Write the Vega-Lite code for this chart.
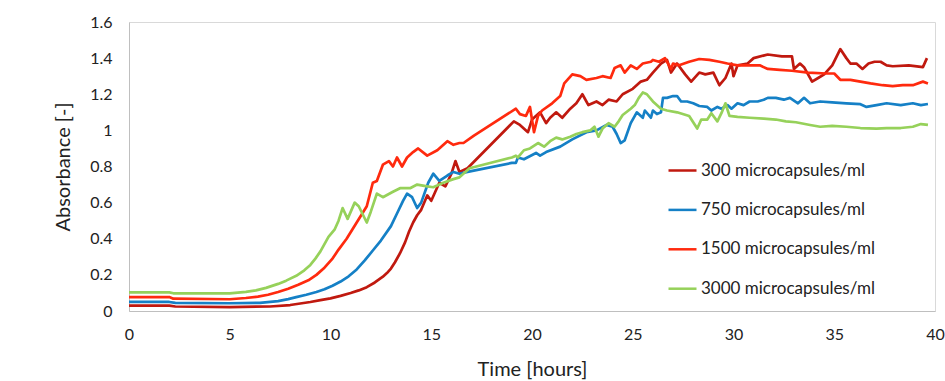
{
  "$schema": "https://vega.github.io/schema/vega-lite/v6.json",
  "width": 806,
  "height": 289,
  "autosize": {"type": "none"},
  "padding": {"left": 129, "top": 22, "right": 10, "bottom": 70},
  "background": "white",
  "config": {
    "font": "Lato",
    "view": {"stroke": "#d9d9d9", "strokeWidth": 1}
  },
  "datasets": {
    "d300": [
      {"time": 0, "abs": 0.03}, {"time": 2, "abs": 0.03}, {"time": 2.3, "abs": 0.025}, {"time": 5, "abs": 0.022}, {"time": 7, "abs": 0.025},
      {"time": 8, "abs": 0.033}, {"time": 9, "abs": 0.05}, {"time": 9.5, "abs": 0.06}, {"time": 10, "abs": 0.07}, {"time": 10.5, "abs": 0.084}, {"time": 11, "abs": 0.1},
      {"time": 11.4, "abs": 0.114}, {"time": 11.8, "abs": 0.132}, {"time": 12.2, "abs": 0.158},
      {"time": 12.6, "abs": 0.19}, {"time": 12.8, "abs": 0.21}, {"time": 13, "abs": 0.235}, {"time": 13.2, "abs": 0.27}, {"time": 13.45, "abs": 0.32}, {"time": 13.7, "abs": 0.38}, {"time": 13.9, "abs": 0.44}, {"time": 14.1, "abs": 0.49}, {"time": 14.3, "abs": 0.53}, {"time": 14.5, "abs": 0.56},
      {"time": 14.8, "abs": 0.64}, {"time": 15.0, "abs": 0.61}, {"time": 15.2, "abs": 0.66}, {"time": 15.4, "abs": 0.71}, {"time": 15.7, "abs": 0.69}, {"time": 16.0, "abs": 0.76}, {"time": 16.2, "abs": 0.83},
      {"time": 16.4, "abs": 0.77}, {"time": 16.8, "abs": 0.79}, {"time": 19.1, "abs": 1.05}, {"time": 19.4, "abs": 1.03}, {"time": 19.8, "abs": 0.99},
      {"time": 20.0, "abs": 1.06}, {"time": 20.4, "abs": 1.1}, {"time": 20.7, "abs": 1.04}, {"time": 20.9, "abs": 1.07}, {"time": 21.2, "abs": 1.1},
      {"time": 21.5, "abs": 1.07}, {"time": 21.9, "abs": 1.12}, {"time": 22.2, "abs": 1.15}, {"time": 22.5, "abs": 1.2}, {"time": 22.8, "abs": 1.14},
      {"time": 23.2, "abs": 1.16}, {"time": 23.5, "abs": 1.14}, {"time": 23.8, "abs": 1.17}, {"time": 24.2, "abs": 1.16}, {"time": 24.5, "abs": 1.2},
      {"time": 25.0, "abs": 1.23}, {"time": 25.4, "abs": 1.27}, {"time": 25.7, "abs": 1.28}, {"time": 26.0, "abs": 1.32}, {"time": 26.4, "abs": 1.37},
      {"time": 26.7, "abs": 1.39}, {"time": 26.9, "abs": 1.32}, {"time": 27.2, "abs": 1.37}, {"time": 27.6, "abs": 1.31}, {"time": 27.9, "abs": 1.27},
      {"time": 28.3, "abs": 1.32}, {"time": 28.6, "abs": 1.31}, {"time": 29.0, "abs": 1.32}, {"time": 29.3, "abs": 1.25}, {"time": 29.6, "abs": 1.29},
      {"time": 29.9, "abs": 1.37}, {"time": 30.0, "abs": 1.3}, {"time": 30.2, "abs": 1.36}, {"time": 30.7, "abs": 1.37}, {"time": 31.0, "abs": 1.4},
      {"time": 31.7, "abs": 1.42}, {"time": 32.4, "abs": 1.41}, {"time": 32.9, "abs": 1.41}, {"time": 33.0, "abs": 1.34}, {"time": 33.3, "abs": 1.37},
      {"time": 33.5, "abs": 1.35}, {"time": 33.7, "abs": 1.31}, {"time": 33.9, "abs": 1.27}, {"time": 34.2, "abs": 1.29}, {"time": 34.5, "abs": 1.31},
      {"time": 34.9, "abs": 1.36}, {"time": 35.3, "abs": 1.45}, {"time": 35.6, "abs": 1.4}, {"time": 35.8, "abs": 1.37}, {"time": 36.1, "abs": 1.37},
      {"time": 36.4, "abs": 1.34}, {"time": 36.7, "abs": 1.37}, {"time": 37.0, "abs": 1.38}, {"time": 37.3, "abs": 1.38}, {"time": 37.6, "abs": 1.36},
      {"time": 37.9, "abs": 1.355}, {"time": 38.7, "abs": 1.36}, {"time": 39.4, "abs": 1.35}, {"time": 39.6, "abs": 1.4}
    ],
    "d750": [
      {"time": 0, "abs": 0.05}, {"time": 2, "abs": 0.05}, {"time": 2.3, "abs": 0.045}, {"time": 5, "abs": 0.043}, {"time": 6.5, "abs": 0.045},
      {"time": 7.4, "abs": 0.055}, {"time": 7.9, "abs": 0.066}, {"time": 8.3, "abs": 0.077}, {"time": 8.8, "abs": 0.09}, {"time": 9.3, "abs": 0.105}, {"time": 9.7, "abs": 0.12}, {"time": 10.1, "abs": 0.14}, {"time": 10.5, "abs": 0.163}, {"time": 10.9, "abs": 0.192},
      {"time": 11.3, "abs": 0.23}, {"time": 11.7, "abs": 0.28}, {"time": 12.1, "abs": 0.335}, {"time": 12.5, "abs": 0.39}, {"time": 13, "abs": 0.47}, {"time": 13.3, "abs": 0.54}, {"time": 13.6, "abs": 0.61}, {"time": 13.8, "abs": 0.65},
      {"time": 14.05, "abs": 0.63}, {"time": 14.3, "abs": 0.57}, {"time": 14.5, "abs": 0.6}, {"time": 14.85, "abs": 0.71}, {"time": 15.1, "abs": 0.76},
      {"time": 15.4, "abs": 0.72}, {"time": 15.8, "abs": 0.75}, {"time": 16.1, "abs": 0.77}, {"time": 16.4, "abs": 0.76}, {"time": 16.8, "abs": 0.77},
      {"time": 19.0, "abs": 0.82}, {"time": 19.2, "abs": 0.82}, {"time": 19.3, "abs": 0.85}, {"time": 19.6, "abs": 0.84}, {"time": 20.2, "abs": 0.875},
      {"time": 20.4, "abs": 0.86}, {"time": 20.7, "abs": 0.88}, {"time": 21.4, "abs": 0.91}, {"time": 22.0, "abs": 0.95}, {"time": 22.7, "abs": 0.99},
      {"time": 23.2, "abs": 1.0}, {"time": 23.7, "abs": 1.03}, {"time": 24.0, "abs": 1.02}, {"time": 24.2, "abs": 0.98}, {"time": 24.4, "abs": 0.93},
      {"time": 24.6, "abs": 0.945}, {"time": 24.9, "abs": 1.04}, {"time": 25.2, "abs": 1.1}, {"time": 25.5, "abs": 1.07}, {"time": 25.6, "abs": 1.11},
      {"time": 25.9, "abs": 1.07}, {"time": 26.0, "abs": 1.11}, {"time": 26.2, "abs": 1.09}, {"time": 26.4, "abs": 1.1}, {"time": 26.5, "abs": 1.18},
      {"time": 26.7, "abs": 1.18}, {"time": 27.0, "abs": 1.19}, {"time": 27.2, "abs": 1.19}, {"time": 27.4, "abs": 1.16}, {"time": 27.7, "abs": 1.16},
      {"time": 28.0, "abs": 1.15}, {"time": 28.3, "abs": 1.135}, {"time": 28.7, "abs": 1.13}, {"time": 28.9, "abs": 1.11}, {"time": 29.2, "abs": 1.13},
      {"time": 29.4, "abs": 1.12}, {"time": 29.7, "abs": 1.14}, {"time": 29.9, "abs": 1.12}, {"time": 30.2, "abs": 1.15}, {"time": 30.5, "abs": 1.14},
      {"time": 30.8, "abs": 1.16}, {"time": 31.2, "abs": 1.16}, {"time": 31.5, "abs": 1.17}, {"time": 31.7, "abs": 1.18}, {"time": 32.1, "abs": 1.18},
      {"time": 32.5, "abs": 1.17}, {"time": 32.8, "abs": 1.18}, {"time": 33.2, "abs": 1.15}, {"time": 33.5, "abs": 1.18}, {"time": 33.8, "abs": 1.15},
      {"time": 34.3, "abs": 1.16}, {"time": 34.9, "abs": 1.155}, {"time": 35.6, "abs": 1.15}, {"time": 36.3, "abs": 1.145}, {"time": 36.6, "abs": 1.13},
      {"time": 37.1, "abs": 1.14}, {"time": 37.6, "abs": 1.15}, {"time": 38.3, "abs": 1.14}, {"time": 38.9, "abs": 1.15}, {"time": 39.3, "abs": 1.14},
      {"time": 39.65, "abs": 1.146}
    ],
    "d1500": [
      {"time": 0, "abs": 0.077}, {"time": 2, "abs": 0.077}, {"time": 2.2, "abs": 0.068}, {"time": 5, "abs": 0.065}, {"time": 5.8, "abs": 0.072},
      {"time": 6.4, "abs": 0.08}, {"time": 6.9, "abs": 0.09}, {"time": 7.4, "abs": 0.105}, {"time": 7.9, "abs": 0.123}, {"time": 8.4, "abs": 0.145}, {"time": 8.9, "abs": 0.17}, {"time": 9.3, "abs": 0.2}, {"time": 9.7, "abs": 0.24}, {"time": 10.1, "abs": 0.29},
      {"time": 10.4, "abs": 0.34}, {"time": 10.8, "abs": 0.4}, {"time": 11.3, "abs": 0.49}, {"time": 11.8, "abs": 0.58}, {"time": 12.1, "abs": 0.71}, {"time": 12.3, "abs": 0.72},
      {"time": 12.6, "abs": 0.81}, {"time": 12.9, "abs": 0.83}, {"time": 13.1, "abs": 0.8}, {"time": 13.3, "abs": 0.85}, {"time": 13.55, "abs": 0.8},
      {"time": 13.8, "abs": 0.85}, {"time": 14.1, "abs": 0.88}, {"time": 14.35, "abs": 0.9}, {"time": 14.8, "abs": 0.86}, {"time": 15.3, "abs": 0.89},
      {"time": 15.8, "abs": 0.94}, {"time": 16.1, "abs": 0.92}, {"time": 16.4, "abs": 0.93}, {"time": 16.6, "abs": 0.93}, {"time": 17.1, "abs": 0.97},
      {"time": 19.2, "abs": 1.12}, {"time": 19.4, "abs": 1.09}, {"time": 19.7, "abs": 1.08}, {"time": 19.9, "abs": 1.13}, {"time": 20.1, "abs": 0.99},
      {"time": 20.3, "abs": 1.08}, {"time": 20.5, "abs": 1.11}, {"time": 21.0, "abs": 1.15}, {"time": 21.4, "abs": 1.19}, {"time": 21.6, "abs": 1.26},
      {"time": 22.0, "abs": 1.31}, {"time": 22.4, "abs": 1.3}, {"time": 22.7, "abs": 1.28}, {"time": 23.2, "abs": 1.29}, {"time": 23.5, "abs": 1.3},
      {"time": 23.9, "abs": 1.29}, {"time": 24.1, "abs": 1.345}, {"time": 24.4, "abs": 1.36}, {"time": 24.6, "abs": 1.32}, {"time": 24.9, "abs": 1.36},
      {"time": 25.2, "abs": 1.34}, {"time": 25.5, "abs": 1.37}, {"time": 25.9, "abs": 1.38}, {"time": 26.0, "abs": 1.39}, {"time": 26.3, "abs": 1.38},
      {"time": 26.6, "abs": 1.4}, {"time": 26.9, "abs": 1.34}, {"time": 27.0, "abs": 1.37}, {"time": 27.3, "abs": 1.36}, {"time": 27.8, "abs": 1.38},
      {"time": 28.3, "abs": 1.395}, {"time": 28.8, "abs": 1.39}, {"time": 29.3, "abs": 1.38}, {"time": 29.7, "abs": 1.37}, {"time": 30.2, "abs": 1.36},
      {"time": 30.7, "abs": 1.36}, {"time": 31.3, "abs": 1.36}, {"time": 31.7, "abs": 1.34}, {"time": 32.3, "abs": 1.335}, {"time": 32.9, "abs": 1.33},
      {"time": 33.7, "abs": 1.32}, {"time": 34.6, "abs": 1.315}, {"time": 35.0, "abs": 1.315}, {"time": 35.3, "abs": 1.28}, {"time": 35.8, "abs": 1.28},
      {"time": 36.3, "abs": 1.27}, {"time": 36.8, "abs": 1.26}, {"time": 37.4, "abs": 1.25}, {"time": 37.9, "abs": 1.245}, {"time": 38.4, "abs": 1.25},
      {"time": 38.9, "abs": 1.25}, {"time": 39.4, "abs": 1.27}, {"time": 39.65, "abs": 1.26}
    ],
    "d3000": [
      {"time": 0, "abs": 0.103}, {"time": 2, "abs": 0.103}, {"time": 2.2, "abs": 0.098}, {"time": 5, "abs": 0.098}, {"time": 5.8, "abs": 0.106}, {"time": 6.3, "abs": 0.114},
      {"time": 6.8, "abs": 0.128}, {"time": 7.4, "abs": 0.15}, {"time": 7.8, "abs": 0.168}, {"time": 8.3, "abs": 0.195}, {"time": 8.7, "abs": 0.225}, {"time": 9.0, "abs": 0.255}, {"time": 9.25, "abs": 0.29}, {"time": 9.5, "abs": 0.33}, {"time": 9.7, "abs": 0.37}, {"time": 9.9, "abs": 0.41},
      {"time": 10.2, "abs": 0.45}, {"time": 10.4, "abs": 0.5}, {"time": 10.6, "abs": 0.57}, {"time": 10.85, "abs": 0.51}, {"time": 11.2, "abs": 0.6},
      {"time": 11.4, "abs": 0.58}, {"time": 11.8, "abs": 0.49}, {"time": 12.0, "abs": 0.55}, {"time": 12.3, "abs": 0.65}, {"time": 12.6, "abs": 0.63},
      {"time": 13.1, "abs": 0.66}, {"time": 13.45, "abs": 0.68}, {"time": 13.95, "abs": 0.68}, {"time": 14.3, "abs": 0.7}, {"time": 14.8, "abs": 0.69},
      {"time": 15.1, "abs": 0.685}, {"time": 15.6, "abs": 0.71}, {"time": 16.1, "abs": 0.73}, {"time": 16.4, "abs": 0.74}, {"time": 16.9, "abs": 0.79},
      {"time": 19.0, "abs": 0.85}, {"time": 19.2, "abs": 0.86}, {"time": 19.3, "abs": 0.85}, {"time": 19.6, "abs": 0.89}, {"time": 19.9, "abs": 0.9},
      {"time": 20.3, "abs": 0.93}, {"time": 20.6, "abs": 0.91}, {"time": 20.9, "abs": 0.94}, {"time": 21.2, "abs": 0.96}, {"time": 21.5, "abs": 0.95},
      {"time": 21.9, "abs": 0.965}, {"time": 22.2, "abs": 0.98}, {"time": 22.5, "abs": 0.99}, {"time": 22.9, "abs": 1.0}, {"time": 23.1, "abs": 1.02},
      {"time": 23.3, "abs": 0.965}, {"time": 23.5, "abs": 1.01}, {"time": 23.8, "abs": 1.04}, {"time": 24.1, "abs": 1.02}, {"time": 24.3, "abs": 1.05},
      {"time": 24.5, "abs": 1.085}, {"time": 24.9, "abs": 1.12}, {"time": 25.1, "abs": 1.14}, {"time": 25.3, "abs": 1.18}, {"time": 25.5, "abs": 1.21},
      {"time": 25.7, "abs": 1.2}, {"time": 26.0, "abs": 1.16}, {"time": 26.4, "abs": 1.12}, {"time": 26.7, "abs": 1.11}, {"time": 27.2, "abs": 1.1},
      {"time": 27.8, "abs": 1.08}, {"time": 28.2, "abs": 1.01}, {"time": 28.4, "abs": 1.06}, {"time": 28.7, "abs": 1.06}, {"time": 28.9, "abs": 1.095},
      {"time": 29.2, "abs": 1.05}, {"time": 29.4, "abs": 1.095}, {"time": 29.6, "abs": 1.15}, {"time": 29.8, "abs": 1.08}, {"time": 30.2, "abs": 1.075},
      {"time": 30.8, "abs": 1.07}, {"time": 31.5, "abs": 1.065}, {"time": 32.1, "abs": 1.06}, {"time": 32.6, "abs": 1.05}, {"time": 33.1, "abs": 1.045},
      {"time": 33.8, "abs": 1.03}, {"time": 34.3, "abs": 1.02}, {"time": 34.9, "abs": 1.025}, {"time": 35.6, "abs": 1.02}, {"time": 36.3, "abs": 1.013},
      {"time": 37.1, "abs": 1.01}, {"time": 37.6, "abs": 1.013}, {"time": 38.3, "abs": 1.013}, {"time": 38.9, "abs": 1.02}, {"time": 39.3, "abs": 1.035},
      {"time": 39.65, "abs": 1.03}
    ]
  },
  "layer": [
    {"data": {"name": "d300"}, "transform": [{"calculate": "'300 microcapsules/ml'", "as": "series"}], "mark": {"type": "line", "strokeWidth": 2.7, "strokeJoin": "round"}},
    {"data": {"name": "d750"}, "transform": [{"calculate": "'750 microcapsules/ml'", "as": "series"}], "mark": {"type": "line", "strokeWidth": 2.7, "strokeJoin": "round"}},
    {"data": {"name": "d1500"}, "transform": [{"calculate": "'1500 microcapsules/ml'", "as": "series"}], "mark": {"type": "line", "strokeWidth": 2.7, "strokeJoin": "round"}},
    {"data": {"name": "d3000"}, "transform": [{"calculate": "'3000 microcapsules/ml'", "as": "series"}], "mark": {"type": "line", "strokeWidth": 2.7, "strokeJoin": "round"}}
  ],
  "encoding": {
    "x": {
      "field": "time", "type": "quantitative",
      "scale": {"domain": [0, 40], "nice": false},
      "axis": {
        "title": "Time [hours]", "values": [0, 5, 10, 15, 20, 25, 30, 35, 40],
        "grid": false, "ticks": false, "domainColor": "#bfbfbf", "domainWidth": 1,
        "labelFontSize": 16, "labelColor": "#222222", "labelPadding": 15, "labelFlush": false,
        "titleFontSize": 20, "titleFontWeight": "normal", "titleColor": "#222222", "titlePadding": 17
      }
    },
    "y": {
      "field": "abs", "type": "quantitative",
      "scale": {"domain": [0, 1.6], "nice": false},
      "axis": {
        "title": "Absorbance [-]", "values": [0, 0.2, 0.4, 0.6, 0.8, 1, 1.2, 1.4, 1.6],
        "labelExpr": "format(datum.value, '.1~f')",
        "grid": false, "ticks": false, "domainColor": "#bfbfbf", "domainWidth": 1,
        "labelFontSize": 16, "labelColor": "#222222", "labelPadding": 17,
        "titleFontSize": 20, "titleFontWeight": "normal", "titleColor": "#222222", "titlePadding": 16
      }
    },
    "color": {
      "field": "series", "type": "nominal",
      "scale": {
        "domain": ["300 microcapsules/ml", "750 microcapsules/ml", "1500 microcapsules/ml", "3000 microcapsules/ml"],
        "range": ["#c0190f", "#1580c6", "#ff2a0e", "#96d15a"]
      },
      "legend": {
        "title": null, "orient": "none", "legendX": 538, "legendY": 133,
        "symbolType": "stroke", "symbolSize": 784, "symbolStrokeWidth": 2.5,
        "labelFontSize": 17, "labelColor": "#222222", "labelOffset": 3,
        "rowPadding": 15.4, "padding": 0, "labelLimit": 300
      }
    }
  }
}
